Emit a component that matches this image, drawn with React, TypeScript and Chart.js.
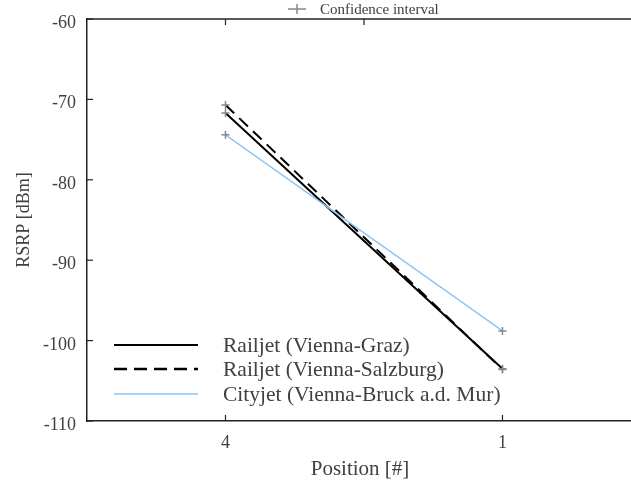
import React, { useEffect, useRef } from "react";
import { Chart, registerables } from "chart.js";

Chart.register(...registerables);

const positions = ["4", "1"];
const grazValues = [-71.7, -103.5];
const salzburgValues = [-70.7, -103.6];
const cityjetValues = [-74.4, -98.8];
const yTicks = [-60, -70, -80, -90, -100, -110];

const seriesNames = [
  "Railjet (Vienna-Graz)",
  "Railjet (Vienna-Salzburg)",
  "Cityjet (Vienna-Bruck a.d. Mur)",
];

const FONT = "'Liberation Serif', 'Times New Roman', serif";
const TEXT = "#404040";
const AXIS = "#222";
const CI = "#888";
const BLUE = "#8ec5f5";

const toPts = (vals: number[]) => vals.map((y, i) => ({ x: i + 1, y }));

const decorPlugin = {
  id: "decor",
  afterDraw(chart: any) {
    const ctx = chart.ctx;
    const area = chart.chartArea;
    const xs = chart.scales.x;
    const ys = chart.scales.y;
    ctx.save();
    ctx.strokeStyle = AXIS;
    ctx.lineWidth = 1.2;
    // y tick labels and inward ticks
    ctx.fillStyle = TEXT;
    ctx.font = `18px ${FONT}`;
    ctx.textAlign = "right";
    ctx.textBaseline = "alphabetic";
    yTicks.forEach((v) => {
      const py = ys.getPixelForValue(v);
      ctx.beginPath();
      ctx.moveTo(area.left, py);
      ctx.lineTo(area.left + 6, py);
      ctx.stroke();
      ctx.fillText(String(v), area.left - 11, py + 9);
    });
    // inward x ticks
    positions.forEach((_, i) => {
      const px = xs.getPixelForValue(i + 1);
      ctx.beginPath();
      ctx.moveTo(px, area.bottom);
      ctx.lineTo(px, area.bottom - 6);
      ctx.stroke();
    });
    // top border with ticks
    ctx.lineWidth = 1.5;
    ctx.beginPath();
    ctx.moveTo(area.left, area.top);
    ctx.lineTo(chart.width, area.top);
    ctx.stroke();
    ctx.lineWidth = 1.2;
    [1, 1.5].forEach((v) => {
      const px = xs.getPixelForValue(v);
      ctx.beginPath();
      ctx.moveTo(px, area.top);
      ctx.lineTo(px, area.top + 6);
      ctx.stroke();
    });

    // axis titles
    ctx.fillStyle = TEXT;
    ctx.textAlign = "center";
    ctx.textBaseline = "middle";
    ctx.font = `21px ${FONT}`;
    ctx.fillText("Position [#]", 360, 469);
    ctx.save();
    ctx.font = `18px ${FONT}`;
    ctx.translate(24, (area.top + area.bottom) / 2);
    ctx.rotate(-Math.PI / 2);
    ctx.fillText("RSRP [dBm]", 0, 0);
    ctx.restore();

    // top legend
    ctx.strokeStyle = CI;
    ctx.lineWidth = 1.5;
    const cx = 297, cy = 9;
    ctx.beginPath();
    ctx.moveTo(cx - 9, cy);
    ctx.lineTo(cx + 9, cy);
    ctx.moveTo(cx, cy - 5);
    ctx.lineTo(cx, cy + 5);
    ctx.stroke();
    ctx.font = `15px ${FONT}`;
    ctx.textAlign = "left";
    ctx.fillStyle = TEXT;
    ctx.fillText("Confidence interval", 320, 10);

    // bottom legend
    const rows = [345, 369, 394];
    const styles = [
      { color: "#000", width: 2, dash: [] as number[] },
      { color: "#000", width: 2.5, dash: [13, 7] },
      { color: BLUE, width: 1.5, dash: [] as number[] },
    ];
    ctx.font = `21.5px ${FONT}`;
    rows.forEach((ry, i) => {
      ctx.strokeStyle = styles[i].color;
      ctx.lineWidth = styles[i].width;
      ctx.setLineDash(styles[i].dash);
      ctx.beginPath();
      ctx.moveTo(114, ry);
      ctx.lineTo(198, ry);
      ctx.stroke();
      ctx.setLineDash([]);
      ctx.fillStyle = TEXT;
      ctx.fillText(seriesNames[i], 223, ry + 1);
    });
    ctx.restore();
  },
};

export default function App() {
  const ref = useRef<HTMLCanvasElement>(null);
  useEffect(() => {
    if (!ref.current) return;
    const common = {
      pointStyle: "cross",
      pointRadius: 4,
      pointBorderColor: CI,
      pointBackgroundColor: CI,
      pointBorderWidth: 1.5,
      fill: false,
      tension: 0,
    };
    const chart = new Chart(ref.current, {
      type: "line",
      data: {
        datasets: [
          {
            label: seriesNames[2],
            data: toPts(cityjetValues),
            borderColor: BLUE,
            borderWidth: 1.5,
            ...common,
          },
          {
            label: seriesNames[0],
            data: toPts(grazValues),
            borderColor: "#000",
            borderWidth: 2,
            ...common,
          },
          {
            label: seriesNames[1],
            data: toPts(salzburgValues),
            borderColor: "#000",
            borderWidth: 2,
            borderDash: [12, 7],
            ...common,
          },
        ] as any,
      },
      options: {
        responsive: false,
        animation: false,
        layout: { autoPadding: false, padding: { top: 19, right: 0, left: 0, bottom: 0 } },
        plugins: { legend: { display: false }, tooltip: { enabled: false } },
        scales: {
          x: {
            type: "linear",
            min: 0.5,
            max: 2.464,
            afterBuildTicks: (s: any) => {
              s.ticks = positions.map((_, i) => ({ value: i + 1 }));
            },
            afterFit: (s: any) => {
              s.height = 65;
              s.paddingRight = 0;
              s.paddingLeft = 0;
            },
            ticks: {
              callback: (v: any) => positions[Number(v) - 1] ?? "",
              font: { family: FONT, size: 18 },
              color: TEXT,
              padding: 11,
              maxRotation: 0,
            },
            grid: { display: false, drawTicks: false },
            border: { display: true, color: AXIS, width: 1.5 },
          },
          y: {
            type: "linear",
            min: -110,
            max: -60,
            afterBuildTicks: (s: any) => {
              s.ticks = yTicks.map((v) => ({ value: v }));
            },
            afterFit: (s: any) => {
              s.width = 87;
              s.paddingTop = 0;
              s.paddingBottom = 0;
            },
            ticks: { display: false },
            grid: { display: false, drawTicks: false },
            border: { display: true, color: AXIS, width: 1.5 },
          },
        },
      } as any,
      plugins: [decorPlugin],
    });
    return () => chart.destroy();
  }, []);
  return (
    <div style={{ position: "absolute", left: 0, top: 0, width: 631, height: 486, background: "#fff" }}>
      <canvas ref={ref} width={631} height={486} style={{ display: "block" }} />
    </div>
  );
}
